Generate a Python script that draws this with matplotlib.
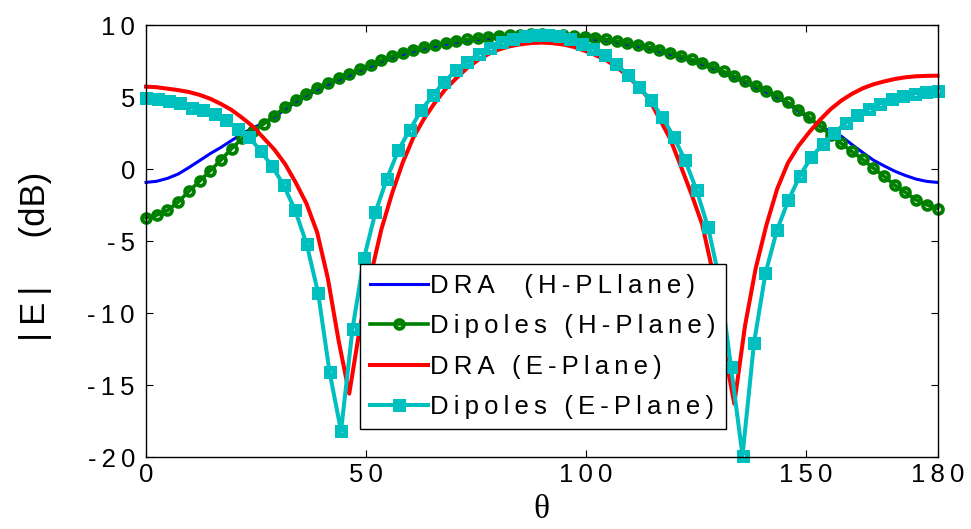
import numpy as np
import matplotlib
matplotlib.use("Agg")
import matplotlib.pyplot as plt

# angle grids (degrees)
theta = np.linspace(0, 180, 75)
theta_dip = np.linspace(0, 180, 70)

# |E| in dB
dra_h = [-0.93, -0.85, -0.65, -0.35, 0.10, 0.58, 1.07, 1.50, 1.98, 2.45,
         2.85, 3.20, 3.58, 4.15, 4.65, 5.08, 5.48, 5.85, 6.18, 6.48,
         6.80, 7.10, 7.40, 7.68, 7.93, 8.14, 8.33, 8.50, 8.64, 8.76,
         8.87, 8.96, 9.04, 9.11, 9.16, 9.19, 9.21, 9.22, 9.21, 9.18,
         9.13, 9.06, 8.98, 8.88, 8.76, 8.63, 8.49, 8.33, 8.14, 7.94,
         7.72, 7.49, 7.25, 6.97, 6.66, 6.33, 6.00, 5.66, 5.32, 4.97,
         4.52, 4.02, 3.50, 3.00, 2.60, 2.28, 1.70, 1.15, 0.62, 0.22,
         -0.15, -0.45, -0.70, -0.86, -0.93]

dip_h = [-3.40, -3.20, -2.88, -2.30, -1.55, -0.85, -0.12, 0.62, 1.42, 2.12,
         2.66, 3.13, 3.70, 4.30, 4.80, 5.23, 5.63, 6.00, 6.33, 6.62,
         6.93, 7.24, 7.56, 7.83, 8.08, 8.28, 8.48, 8.64, 8.78, 8.90,
         9.00, 9.09, 9.17, 9.25, 9.30, 9.33, 9.35, 9.35, 9.34, 9.31,
         9.25, 9.19, 9.11, 9.01, 8.89, 8.76, 8.62, 8.46, 8.27, 8.07,
         7.85, 7.62, 7.38, 7.10, 6.78, 6.45, 6.12, 5.78, 5.45, 5.10,
         4.63, 4.12, 3.58, 2.98, 2.38, 1.78, 1.22, 0.68, 0.06, -0.50,
         -1.12, -1.62, -2.15, -2.48, -2.75]

dra_e = [5.72, 5.68, 5.58, 5.48, 5.35, 5.15, 4.88, 4.52, 4.10, 3.55,
         2.95, 2.15, 1.35, 0.35, -0.95, -2.40, -4.40, -7.60, -11.90, -15.60,
         -11.00, -7.40, -4.20, -1.70, 0.45, 2.20, 3.50, 4.60, 5.55, 6.30,
         7.00, 7.55, 7.98, 8.30, 8.52, 8.66, 8.75, 8.78, 8.74, 8.65,
         8.48, 8.22, 7.92, 7.57, 7.08, 6.47, 5.75, 4.90, 3.50, 2.10,
         0.20, -1.75, -3.85, -7.20, -12.30, -16.30, -10.90, -6.90, -3.90, -1.40,
         0.40, 1.60, 2.55, 3.40, 4.15, 4.75, 5.22, 5.60, 5.88, 6.08,
         6.25, 6.37, 6.44, 6.47, 6.48]

dip_e = [4.95, 4.85, 4.70, 4.55, 4.27, 4.08, 3.80, 3.38, 2.80, 2.22,
         1.23, 0.19, -1.13, -2.87, -5.20, -8.60, -14.10, -18.20, -11.10, -6.20,
         -3.00, -0.67, 1.30, 2.74, 4.08, 5.12, 6.04, 6.85, 7.43, 8.01,
         8.43, 8.82, 9.06, 9.22, 9.29, 9.29, 9.22, 9.06, 8.71, 8.36,
         7.90, 7.32, 6.51, 5.70, 4.77, 3.62, 2.24, 0.60, -1.48, -4.06,
         -7.70, -13.75, -19.90, -12.10, -7.25, -4.26, -2.17, -0.48, 0.83, 1.71,
         2.50, 3.20, 3.73, 4.19, 4.54, 4.84, 5.05, 5.24, 5.35, 5.42]

xticks = [0, 50, 100, 150, 180]
yticks = [-20, -15, -10, -5, 0, 5, 10]
labels = ["DRA  (H-PLlane)", "Dipoles (H-Plane)", "DRA (E-Plane)", "Dipoles (E-Plane)"]

TS = "\u2009"  # thin space for the wide letter spacing


def spaced(s):
    return TS.join(s)


plt.rcParams["font.family"] = ["Liberation Sans", "DejaVu Sans"]

fig = plt.figure(figsize=(9.71, 5.29), dpi=100)
ax = fig.add_axes([0.1504, 0.1361, 0.8151, 0.8166])

ax.plot(theta, dra_h, color="#0000FF", lw=2.2, label=spaced(labels[0]), clip_on=False)
ax.plot(theta, dip_h, color="#008000", lw=2.6, marker="o", ms=6.3, mew=2.8,
        mfc="none", label=spaced(labels[1]), clip_on=False)
ax.plot(theta, dra_e, color="#FF0000", lw=2.9, label=spaced(labels[2]), clip_on=False)
ax.plot(theta_dip, dip_e, color="#00BFBF", lw=2.9, marker="s", ms=6.0, mew=3.6,
        mfc="none", label=spaced(labels[3]), clip_on=False)

ax.set_xlim(0, 180)
ax.set_ylim(-20, 10)
ax.set_xticks(xticks, labels=[spaced(str(t)) for t in xticks])
ax.set_yticks(yticks, labels=[spaced(str(t)) for t in yticks])
ax.tick_params(direction="in", length=5, width=0.8, labelsize=18.5,
               top=True, right=True)
ax.tick_params(axis="y", pad=8)
ax.tick_params(axis="x", pad=4)
for sp in ax.spines.values():
    sp.set_linewidth(1.0)

leg = ax.legend(loc="lower left", bbox_to_anchor=(0.2704, 0.0648),
                borderaxespad=0, fontsize=18.5, handlelength=2.26,
                handletextpad=0.08, borderpad=0.4, labelspacing=0.63,
                numpoints=1, fancybox=False, framealpha=1, edgecolor="black")
leg.get_frame().set_linewidth(1.0)

fig.text(35 / 971, 1 - 256 / 529, "|" + TS + "E" + TS + "|     (dB)", rotation=90,
         ha="center", va="center", fontsize=25)
fig.text(541.75 / 971, 1 - 510 / 529, "θ", ha="center", va="center",
         fontsize=24, family="Liberation Serif")

fig.savefig("out.png", dpi=100)
